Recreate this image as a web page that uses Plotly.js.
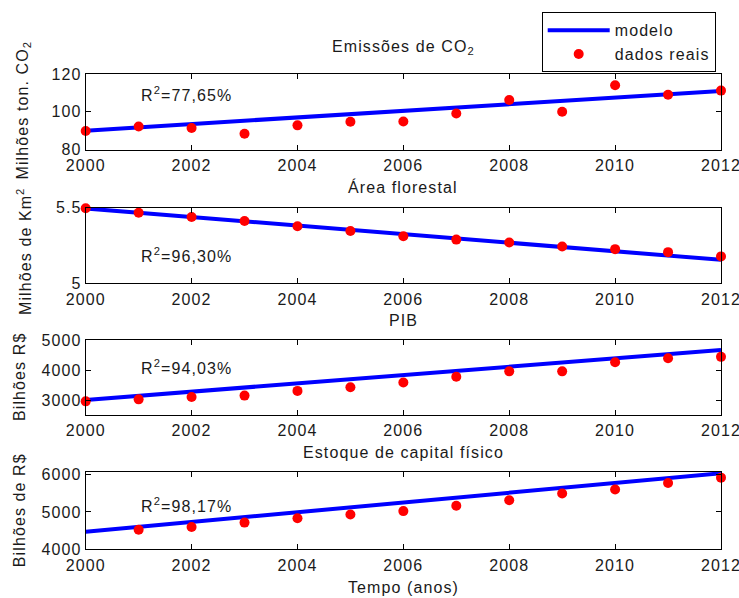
<!DOCTYPE html>
<html>
<head>
<meta charset="utf-8">
<script src="https://cdn.plot.ly/plotly-3.0.1.min.js"></script>
<style>
html,body{margin:0;padding:0;background:#fff;}
#chart{width:739px;height:598px;}
text{letter-spacing:1.1px;}
</style>
</head>
<body>
<div id="chart"></div>
<script>
// ---- data ----
const years = [2000, 2001, 2002, 2003, 2004, 2005, 2006, 2007, 2008, 2009, 2010, 2011, 2012];
const modelYears = [2000, 2012];

const co2Real = [89.8, 92.2, 91.4, 88.3, 92.8, 94.7, 94.8, 99.1, 106.2, 100, 114, 109, 111.2];
const co2Model = [90, 111];

const forestReal = [5.496, 5.467, 5.439, 5.412, 5.377, 5.346, 5.311, 5.289, 5.270, 5.243, 5.226, 5.206, 5.178];
const forestModel = [5.495, 5.155];

const pibReal = [2955, 3022, 3101, 3146, 3303, 3427, 3584, 3775, 3955, 3955, 4258, 4393, 4438];
const pibModel = [3000, 4663];

const capitalReal = [null, 4525, 4597, 4715, 4833, 4932, 5023, 5167, 5312, 5493, 5602, 5774, 5919];
const capitalModel = [4471, 6036];

const xTickVals = [2000, 2002, 2004, 2006, 2008, 2010, 2012];
const xTickText = ['2000', '2002', '2004', '2006', '2008', '2010', '2012'];

const panelTitles = ['Emissões de CO<sub>2</sub>', 'Área florestal', 'PIB', 'Estoque de capital físico'];
const yTitles = ['Milhões ton. CO<sub>2</sub>', 'Milhões de Km<sup>2</sup>', 'Bilhões R$', 'Bilhões de R$'];
const r2Labels = ['R<sup>2</sup>=77,65%', 'R<sup>2</sup>=96,30%', 'R<sup>2</sup>=94,03%', 'R<sup>2</sup>=98,17%'];
const xTitle = 'Tempo (anos)';
const legendNames = ['modelo', 'dados reais'];

const panel1YTicks = [80, 100, 120];
const panel2YTicks = [5, 5.5];
const panel2YText = ['5', '5.5'];
const panel3YTicks = [3000, 4000, 5000];
const panel4YTicks = [4000, 5000, 6000];

// ---- layout helpers ----
const W = 739, H = 598;
const FONT = 'Liberation Sans, Arial, Helvetica, sans-serif';
const FS = 16;
const TXT = '#1a1a1a';
const py = p => 1 - p / H;
const px = p => p / W;

const xDom = [px(85.7), px(721)];
const yDoms = [
  [py(149.5), py(74)],
  [py(283.3), py(207.7)],
  [py(415), py(340)],
  [py(549.3), py(472)]
];
const yRanges = [[80, 120], [5, 5.5], [2500, 5000], [4000, 6070]];
const yTickSets = [
  {vals: panel1YTicks, text: panel1YTicks.map(String)},
  {vals: panel2YTicks, text: panel2YText},
  {vals: panel3YTicks, text: panel3YTicks.map(String)},
  {vals: panel4YTicks, text: panel4YTicks.map(String)}
];
const realSets = [co2Real, forestReal, pibReal, capitalReal];
const modelSets = [co2Model, forestModel, pibModel, capitalModel];

const traces = [];
const layout = {
  width: W, height: H,
  margin: {l: 0, r: 0, t: 0, b: 0},
  paper_bgcolor: '#fff', plot_bgcolor: '#fff',
  font: {family: FONT, size: FS, color: TXT},
  showlegend: true,
  legend: {
    x: px(541.7), y: py(12.3), xanchor: 'left', yanchor: 'top',
    bordercolor: '#000', borderwidth: 1, bgcolor: '#fff',
    font: {family: FONT, size: FS, color: TXT},
    itemwidth: 62, tracegroupgap: 0
  },
  annotations: [],
  shapes: []
};

for (let i = 0; i < 4; i++) {
  const xa = i === 0 ? 'x' : 'x' + (i + 1);
  const ya = i === 0 ? 'y' : 'y' + (i + 1);
  traces.push({
    x: modelYears, y: modelSets[i], xaxis: xa, yaxis: ya,
    type: 'scatter', mode: 'lines', name: legendNames[0],
    line: {color: '#0000ff', width: 4}, showlegend: i === 0, legendgroup: 'm'
  });
  traces.push({
    x: years, y: realSets[i], xaxis: xa, yaxis: ya,
    type: 'scatter', mode: 'markers', name: legendNames[1], cliponaxis: false,
    marker: {color: '#ff0000', size: 10, symbol: 'circle'}, showlegend: i === 0, legendgroup: 'd'
  });
  const xk = i === 0 ? 'xaxis' : 'xaxis' + (i + 1);
  const yk = i === 0 ? 'yaxis' : 'yaxis' + (i + 1);
  layout[xk] = {
    domain: xDom, anchor: ya, range: [2000, 2012],
    tickmode: 'array', tickvals: xTickVals, ticktext: xTickText,
    ticks: 'inside', ticklen: 5, tickcolor: '#000', tickwidth: 1,
    ticklabelstandoff: 1, ticklabeloverflow: 'allow',
    showline: true, linecolor: '#000', linewidth: 1, mirror: 'ticks',
    showgrid: false, zeroline: false, fixedrange: true,
    tickfont: {family: FONT, size: FS, color: TXT}
  };
  layout[yk] = {
    domain: yDoms[i], anchor: xa, range: yRanges[i],
    tickmode: 'array', tickvals: yTickSets[i].vals, ticktext: yTickSets[i].text,
    ticks: 'inside', ticklen: 5, tickcolor: '#000', tickwidth: 1,
    ticklabeloverflow: 'allow',
    showline: true, linecolor: '#000', linewidth: 1, mirror: 'ticks',
    showgrid: false, zeroline: false, fixedrange: true,
    tickfont: {family: FONT, size: FS, color: TXT}
  };
}

// panel titles
const titleY = [47, 187, 320, 452];
for (let i = 0; i < 4; i++) {
  layout.annotations.push({
    text: panelTitles[i], xref: 'paper', yref: 'paper',
    x: px(403), y: py(titleY[i]), xanchor: 'center', yanchor: 'middle',
    showarrow: false, font: {family: FONT, size: FS, color: TXT}
  });
}
layout.annotations.push({
  text: xTitle, xref: 'paper', yref: 'paper',
  x: px(403), y: py(587), xanchor: 'center', yanchor: 'middle',
  showarrow: false, font: {family: FONT, size: FS, color: TXT}
});
// y titles
const yTitleX = [22.5, 24, 19.5, 19.5];
const yTitleY = [110, 252, 377.5, 510.7];
for (let i = 0; i < 4; i++) {
  layout.annotations.push({
    text: yTitles[i], xref: 'paper', yref: 'paper',
    x: px(yTitleX[i]), y: py(yTitleY[i]), xanchor: 'center', yanchor: 'middle',
    textangle: -90, showarrow: false, font: {family: FONT, size: FS, color: TXT}
  });
}
// R2 labels
const r2Y = [109.5, 5.187, 4110, 5188];
for (let i = 0; i < 4; i++) {
  layout.annotations.push({
    text: r2Labels[i], xref: i === 0 ? 'x' : 'x' + (i + 1), yref: i === 0 ? 'y' : 'y' + (i + 1),
    x: 2001, y: r2Y[i], xanchor: 'left', yanchor: 'middle',
    showarrow: false, font: {family: FONT, size: FS, color: TXT}
  });
}

Plotly.newPlot('chart', traces, layout, {displayModeBar: false, staticPlot: true});
</script>
</body>
</html>
